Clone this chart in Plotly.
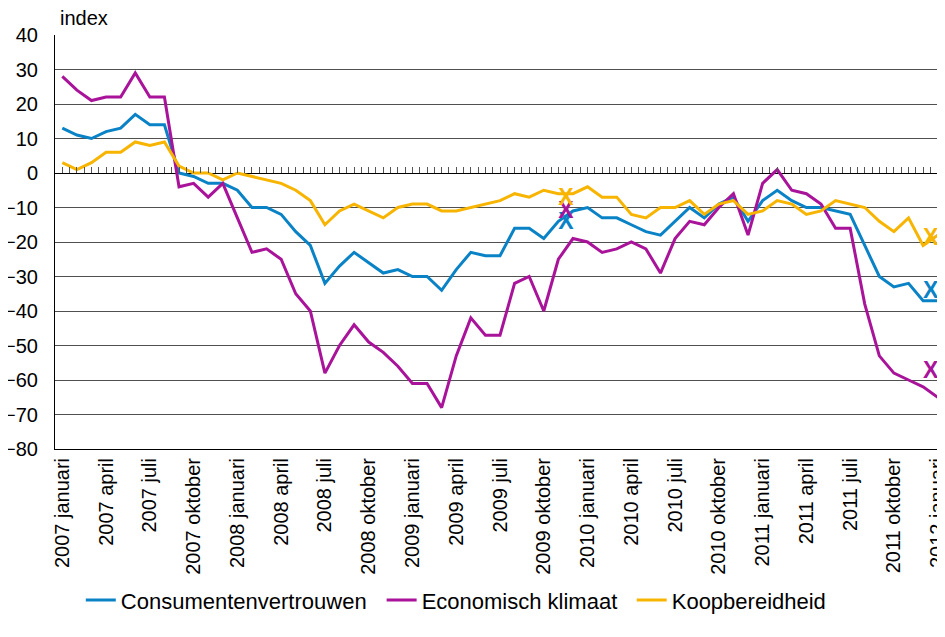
import plotly.graph_objects as go

maanden = ["januari", "februari", "maart", "april", "mei", "juni", "juli",
           "augustus", "september", "oktober", "november", "december"]
months = [f"{y} {m}" for y in range(2007, 2012) for m in maanden] + ["2012 januari"]
tick_labels = months[::3]

consumentenvertrouwen = [13, 11, 10, 12, 13, 17, 14, 14,
                         0, -1, -3, -3, -5, -10, -10, -12, -17, -21,
                         -32, -27, -23, -26, -29, -28, -30, -30, -34, -28,
                         -23, -24, -24, -16, -16, -19, -14, -11, -10, -13,
                         -13, -15, -17, -18, -14, -10, -13, -9, -7, -14,
                         -8, -5, -8, -10, -10, -11, -12, -21, -30, -33,
                         -32, -37, -37]
economisch_klimaat = [28, 24, 21, 22, 22, 29, 22, 22,
                      -4, -3, -7, -3, -13, -23, -22, -25, -35, -40,
                      -58, -50, -44, -49, -52, -56, -61, -61, -68, -53,
                      -42, -47, -47, -32, -30, -40, -25, -19, -20, -23,
                      -22, -20, -22, -29, -19, -14, -15, -10, -6, -18,
                      -3, 1, -5, -6, -9, -16, -16, -38, -53, -58,
                      -60, -62, -65]
koopbereidheid = [3, 1, 3, 6, 6, 9, 8, 9,
                  2, 0, 0, -2, 0, -1, -2, -3, -5, -8,
                  -15, -11, -9, -11, -13, -10, -9, -9, -11, -11,
                  -10, -9, -8, -6, -7, -5, -6, -6, -4, -7,
                  -7, -12, -13, -10, -10, -8, -12, -9, -8, -12,
                  -11, -8, -9, -12, -11, -8, -9, -10, -14, -17,
                  -13, -21, -18]

x_marker_months = ["2009 november", "2011 december"]
cv_x = [-14.5, -34.5]
ek_x = [-11.5, -57.7]
kb_x = [-7.5, -19.1]

series = [
    ("Consumentenvertrouwen", consumentenvertrouwen, cv_x, "#0A82C6", "legend", 0.029),
    ("Economisch klimaat", economisch_klimaat, ek_x, "#A8139A", "legend2", 0.367),
    ("Koopbereidheid", koopbereidheid, kb_x, "#F7B400", "legend3", 0.648),
]

FONT = "Liberation Sans, Arial, sans-serif"
fig = go.Figure()
for name, vals, xv, col, lg, lx in series:
    fig.add_trace(go.Scatter(x=months, y=vals, mode="lines", name=name, legend=lg,
                             line=dict(color=col, width=3)))
for name, vals, xv, col, lg, lx in series:
    fig.add_trace(go.Scatter(x=x_marker_months, y=xv, mode="text", text=["<b>X</b>"] * len(xv),
                             textposition="middle right",
                             textfont=dict(family=FONT, size=23, color=col),
                             showlegend=False, hoverinfo="skip"))
# dummy trace to activate zero-line tick axis
fig.add_trace(go.Scatter(x=[None], y=[None], xaxis="x2", showlegend=False, hoverinfo="skip"))

legend_common = dict(orientation="h", xanchor="left", y=-0.365, yanchor="middle",
                     font=dict(size=22), itemwidth=30, bgcolor="rgba(0,0,0,0)")
layout_legends = {}
for name, vals, xv, col, lg, lx in series:
    layout_legends[lg] = dict(legend_common, x=lx)

fig.update_layout(
    width=937, height=629,
    margin=dict(l=47, r=0, t=27, b=188, autoexpand=False),
    paper_bgcolor="white", plot_bgcolor="white",
    font=dict(family=FONT, size=20, color="black"),
    showlegend=True,
    **layout_legends,
    xaxis=dict(type="category", range=[-0.5, 60.5], tickmode="array",
               tickvals=tick_labels, ticktext=tick_labels, tickangle=-90,
               showgrid=False, showline=True, linecolor="black", linewidth=1,
               ticks="", automargin=False, tickfont=dict(size=20), zeroline=False),
    xaxis2=dict(overlaying="x", anchor="free", position=2 / 3, side="bottom",
                range=[-0.5, 60.5], tickmode="linear", tick0=0, dtick=0.5,
                ticks="inside", ticklen=6, tickcolor="#555555", tickwidth=1,
                showticklabels=False, showgrid=False, showline=False, zeroline=False),
    yaxis=dict(range=[-80, 40], tickmode="linear", tick0=-80, dtick=10,
               showgrid=True, gridcolor="#505050", gridwidth=1,
               zeroline=True, zerolinecolor="black", zerolinewidth=1,
               showline=True, linecolor="black", linewidth=1,
               ticks="", ticklabelstandoff=12, automargin=False,
               tickfont=dict(size=20)),
    annotations=[dict(text="index", xref="paper", yref="paper", x=0, y=1,
                      xanchor="left", yanchor="bottom", xshift=3, yshift=4,
                      showarrow=False, font=dict(size=20))],
)

fig.write_html("out.html")
